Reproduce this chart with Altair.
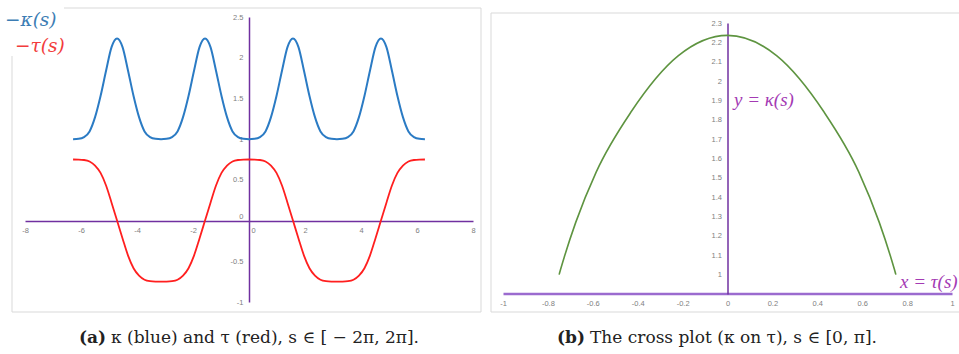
import altair as alt
import pandas as pd

# Sample points s = k*pi/16 over [-2pi, 2pi]
s_vals = [
    -6.2832, -6.0868, -5.8905, -5.6941, -5.4978, -5.3014, -5.1051, -4.9087,
    -4.7124, -4.5160, -4.3197, -4.1233, -3.9270, -3.7306, -3.5343, -3.3379,
    -3.1416, -2.9452, -2.7489, -2.5525, -2.3562, -2.1598, -1.9635, -1.7671,
    -1.5708, -1.3744, -1.1781, -0.9817, -0.7854, -0.5890, -0.3927, -0.1963,
    0.0000, 0.1963, 0.3927, 0.5890, 0.7854, 0.9817, 1.1781, 1.3744,
    1.5708, 1.7671, 1.9635, 2.1598, 2.3562, 2.5525, 2.7489, 2.9452,
    3.1416, 3.3379, 3.5343, 3.7306, 3.9270, 4.1233, 4.3197, 4.5160,
    4.7124, 4.9087, 5.1051, 5.3014, 5.4978, 5.6941, 5.8905, 6.0868,
    6.2832,
]

# curvature kappa(s)
kappa_vals = [
    1.000, 1.004, 1.025, 1.095, 1.270, 1.530, 1.840, 2.130,
    2.236, 2.130, 1.840, 1.530, 1.270, 1.095, 1.025, 1.004,
    1.000, 1.004, 1.025, 1.095, 1.270, 1.530, 1.840, 2.130,
    2.236, 2.130, 1.840, 1.530, 1.270, 1.095, 1.025, 1.004,
    1.000, 1.004, 1.025, 1.095, 1.270, 1.530, 1.840, 2.130,
    2.236, 2.130, 1.840, 1.530, 1.270, 1.095, 1.025, 1.004,
    1.000, 1.004, 1.025, 1.095, 1.270, 1.530, 1.840, 2.130,
    2.236, 2.130, 1.840, 1.530, 1.270, 1.095, 1.025, 1.004,
    1.000,
]

# torsion tau(s)
tau_vals = [
    0.750, 0.749, 0.744, 0.726, 0.676, 0.585, 0.430, 0.220,
    0.000, -0.220, -0.430, -0.585, -0.676, -0.726, -0.744, -0.749,
    -0.750, -0.749, -0.744, -0.726, -0.676, -0.585, -0.430, -0.220,
    0.000, 0.220, 0.430, 0.585, 0.676, 0.726, 0.744, 0.749,
    0.750, 0.749, 0.744, 0.726, 0.676, 0.585, 0.430, 0.220,
    0.000, -0.220, -0.430, -0.585, -0.676, -0.726, -0.744, -0.749,
    -0.750, -0.749, -0.744, -0.726, -0.676, -0.585, -0.430, -0.220,
    0.000, 0.220, 0.430, 0.585, 0.676, 0.726, 0.744, 0.749,
    0.750,
]

left_x_ticks = [-8, -6, -4, -2, 0, 2, 4, 6, 8]
left_y_ticks = [-1, -0.5, 0, 0.5, 1, 1.5, 2, 2.5]
right_x_ticks = [-1, -0.8, -0.6, -0.4, -0.2, 0, 0.2, 0.4, 0.6, 0.8, 1]
right_y_ticks = [1, 1.1, 1.2, 1.3, 1.4, 1.5, 1.6, 1.7, 1.8, 1.9, 2, 2.1, 2.2, 2.3]

df = pd.DataFrame({"s": s_vals, "kappa": kappa_vals, "tau": tau_vals})
df_cross = df[(df["s"] >= 0) & (df["s"] <= 3.1416)]

BLUE = "#2B7BC4"
RED = "#FF1F1F"
GREEN = "#5E9440"
PURPLE = "#7030A0"
LIGHT_PURPLE = "#9B6BCF"
MAGENTA = "#A43AB4"
TICK_GREY = "#808080"
W, H = 959, 354

axis_common = dict(
    grid=False, ticks=False, title=None, labelFont="Liberation Sans",
    labelFontSize=7.5, labelColor=TICK_GREY, labelFlush=False,
    labelOverlap=False, labelExpr="'' + datum.value",
)
at_zero = "datum.value === 0"

# panel (a): kappa and tau against s
lx = alt.Scale(domain=[-8, 8], range=[25, 473], nice=False, zero=False)
ly = alt.Scale(domain=[-1, 2.5], range=[302, 17], nice=False, zero=False)
ax_lx = alt.Axis(
    orient="bottom", offset=221 - H, values=left_x_ticks, labelPadding=5,
    domainColor=PURPLE, domainWidth=1.5,
    labelAlign={"condition": {"test": at_zero, "value": "left"}, "value": "center"},
    labelOffset={"condition": {"test": at_zero, "value": 2}, "value": 0},
    **axis_common,
)
ax_ly = alt.Axis(
    orient="left", offset=-249, values=left_y_ticks, labelPadding=6,
    domainColor=PURPLE, domainWidth=1.5,
    labelBaseline={"condition": {"test": at_zero, "value": "bottom"}, "value": "middle"},
    **axis_common,
)

kappa_line = alt.Chart(df).mark_line(color=BLUE, strokeWidth=2, interpolate="monotone").encode(
    x=alt.X("s:Q", scale=lx, axis=ax_lx),
    y=alt.Y("kappa:Q", scale=ly, axis=ax_ly),
)
tau_line = alt.Chart(df).mark_line(color=RED, strokeWidth=1.8, interpolate="monotone").encode(
    x=alt.X("s:Q", scale=lx, axis=ax_lx),
    y=alt.Y("tau:Q", scale=ly, axis=ax_ly),
)
left = alt.layer(kappa_line, tau_line)

# panel (b): kappa on tau for s in [0, pi]
rx = alt.Scale(domain=[-1, 1], range=[503, 952], nice=False, zero=False)
ry = alt.Scale(domain=[0.9, 2.3], range=[294, 23], nice=False, zero=False)
ax_rx = alt.Axis(
    orient="bottom", offset=293.5 - H, values=right_x_ticks, labelPadding=6,
    domainColor=LIGHT_PURPLE, domainWidth=2.5, **axis_common,
)
ax_ry = alt.Axis(
    orient="left", offset=-727.5, values=right_y_ticks, labelPadding=6,
    domainColor=PURPLE, domainWidth=1.5, **axis_common,
)
cross = alt.Chart(df_cross).mark_line(color=GREEN, strokeWidth=1.6, interpolate="monotone").encode(
    x=alt.X("tau:Q", scale=rx, axis=ax_rx),
    y=alt.Y("kappa:Q", scale=ry, axis=ax_ry),
    order=alt.Order("tau:Q"),
)

# frames, legend labels and captions
blank = alt.Data(values=[{}])


def box(x1, x2, y1, y2, **kw):
    return alt.Chart(blank).mark_rect(**kw).encode(
        x=alt.value(x1), x2=alt.value(x2), y=alt.value(y1), y2=alt.value(y2)
    )


def label(text, x, y, **kw):
    return alt.Chart(blank).mark_text(text=text, baseline="middle", **kw).encode(
        x=alt.value(x), y=alt.value(y)
    )


legend_math = dict(font="DejaVu Serif", fontStyle="italic", fontSize=18.5)
axis_math = dict(font="Liberation Serif", fontStyle="italic", fontSize=19)
cap = dict(font="DejaVu Serif", fontSize=17, color="#222222")

decor = [
    box(12, 481, 8, 312, fill="transparent", stroke="#D9D9D9", strokeWidth=1),
    box(491, 975, 13, 312, fill="transparent", stroke="#D9D9D9", strokeWidth=1),
    box(0, 64, 0, 56, color="white"),
    label("−κ(s)", 5, 20, align="left", color="#3C7DB4", **legend_math),
    label("−τ(s)", 15, 46, align="left", color="#F23C3C", **legend_math),
    label("y = κ(s)", 734, 100, align="left", color=MAGENTA, **axis_math),
    label("x = τ(s)", 900, 282, align="left", color=MAGENTA, **axis_math),
    label("(a)", 106, 338, align="right", fontWeight="bold", **cap),
    label("κ (blue) and τ (red), s ∈ [ − 2π, 2π].", 111, 338, align="left", **cap),
    label("(b)", 585, 338, align="right", fontWeight="bold", **cap),
    label("The cross plot (κ on τ), s ∈ [0, π].", 590, 338, align="left", **cap),
]

chart = (
    alt.layer(left, cross, *decor)
    .resolve_scale(x="independent", y="independent")
    .properties(
        width=W, height=H, padding=0,
        autosize=alt.AutoSizeParams(type="none"),
        background="white",
    )
    .configure_view(strokeWidth=0)
)

chart.save("out.html", embed_options={"renderer": "svg", "actions": False})
